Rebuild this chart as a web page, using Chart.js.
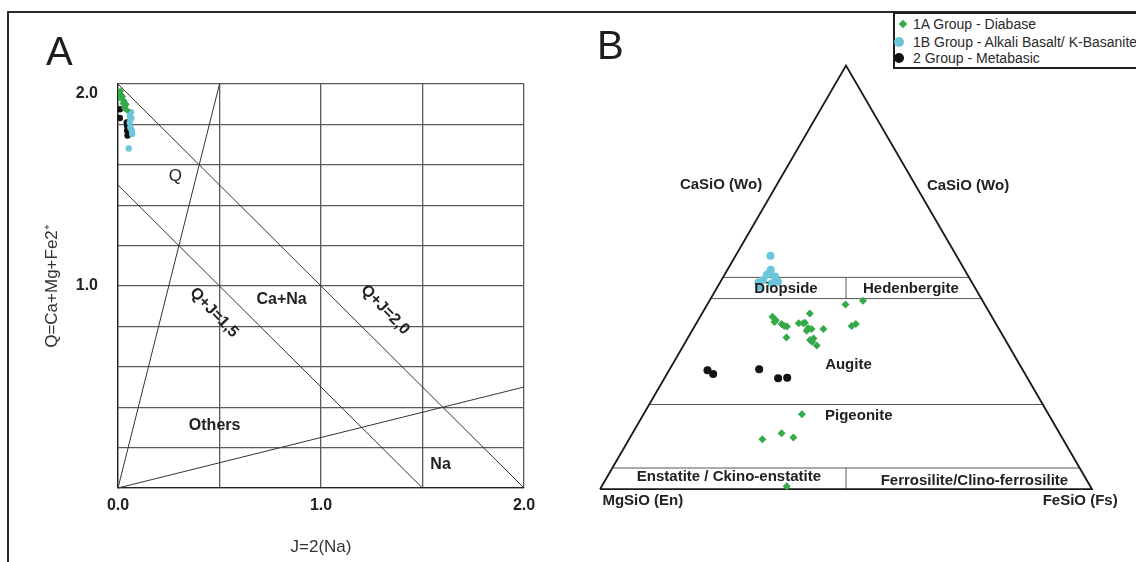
<!DOCTYPE html>
<html>
<head>
<meta charset="utf-8">
<script src="https://cdn.jsdelivr.net/npm/chart.js@4.4.0/dist/chart.umd.min.js"></script>
<style>
  html,body{margin:0;padding:0;background:#fff;}
  body{width:1136px;height:562px;overflow:hidden;position:relative;font-family:"Liberation Sans",Arial,sans-serif;}
  #frame{position:absolute;left:7px;top:11px;width:1200px;height:600px;border-left:2px solid #2a2a2a;border-top:2px solid #2a2a2a;}
  #cA{position:absolute;left:0;top:0;}
  #cB{position:absolute;left:560px;top:0;}
  .letter{position:absolute;font-size:40px;line-height:40px;color:#1e1e1e;}
  #legend{position:absolute;left:893px;top:12px;width:260px;height:53px;border:2px solid #1e1e1e;background:#fff;font-size:14px;color:#2a2a2a;}
  .row{position:absolute;left:0;height:17px;line-height:17px;white-space:nowrap;}
  .mk{position:absolute;}
  .txt{position:absolute;left:18px;top:0;}
</style>
</head>
<body>
<div id="frame"></div>
<canvas id="cA" width="560" height="562"></canvas>
<canvas id="cB" width="576" height="562"></canvas>
<div class="letter" style="left:46px;top:31px;">A</div>
<div class="letter" style="left:597px;top:25px;">B</div>
<div id="legend"></div>
<script>
// ---------------- DATA ----------------
const groupLabels = ['1A Group - Diabase', '1B Group - Alkali Basalt/ K-Basanite', '2 Group - Metabasic'];

// Panel A : Q-J diagram (J = 2Na, Q = Ca+Mg+Fe2+)
const diabaseJ = [0.004, 0.016, 0.009, 0.020, 0.029, 0.025, 0.035, 0.032, 0.012, 0.040, 0.022, 0.045];
const diabaseQ = [1.955, 1.946, 1.933, 1.925, 1.917, 1.903, 1.892, 1.881, 1.965, 1.900, 1.938, 1.870];
const alkaliJ  = [0.058, 0.066, 0.058, 0.061, 0.070, 0.053, 0.064, 0.068];
const alkaliQ  = [1.842, 1.831, 1.810, 1.785, 1.752, 1.681, 1.860, 1.770];
const metaJ    = [0.009, 0.009, 0.045, 0.045, 0.047, 0.043];
const metaQ    = [1.875, 1.832, 1.793, 1.770, 1.745, 1.810];

// Panel A field boundaries (data units)
const lineQJ15 = [[0, 1.5], [1.5, 0]];
const lineQJ20 = [[0, 2.0], [2.0, 0]];
const lineQ80  = [[0, 0], [0.5, 2.0]];
const lineJ80  = [[0, 0], [2.0, 0.5]];
const xTickLabelsA = ['0.0', '1.0', '2.0'];
const yTickLabelsA = ['1.0', '2.0'];
const fieldNamesA = ['Q', 'Ca+Na', 'Others', 'Na', 'Q+J=1,5', 'Q+J=2,0'];

// Panel B : pyroxene quadrilateral (Wo, En, Fs in %)
const diabaseWo = [43.6, 44.5, 40.7, 39.5, 39.0, 38.4, 41.5, 39.2, 39.2, 38.0, 37.4, 37.8, 35.8, 35.2, 35.6, 33.9, 38.5, 39.0, 17.7, 13.2, 11.8, 12.2, 0.7, 37.8, 39.3, 39.9, 38.5, 34.8];
const diabaseEn = [28.3, 24.3, 44.6, 44.8, 43.6, 42.8, 36.6, 40.0, 39.1, 38.7, 39.3, 35.7, 44.2, 39.7, 38.8, 39.0, 29.6, 28.5, 50.1, 56.5, 61.1, 54.6, 61.7, 38.1, 38.7, 44.3, 43.3, 39.5];
const diabaseFs = [28.1, 31.2, 14.7, 15.7, 17.4, 18.8, 21.9, 20.8, 21.7, 23.3, 23.3, 26.5, 20.0, 25.1, 25.6, 27.1, 31.9, 32.5, 32.2, 30.3, 27.1, 33.2, 37.6, 24.1, 22.0, 15.8, 18.2, 25.7];
const alkaliWo = [55.1, 51.1, 49.4, 48.8, 50.2, 48.6, 50.6, 49.0, 47.8, 51.8];
const alkaliEn = [37.8, 40.0, 42.1, 43.4, 39.3, 40.8, 40.8, 39.3, 43.6, 39.4];
const alkaliFs = [7.1, 8.9, 8.5, 7.8, 10.5, 10.6, 8.6, 11.7, 8.6, 8.8];
const metaWo = [28.1, 27.2, 28.3, 26.2, 26.3];
const metaEn = [64.1, 63.4, 53.5, 50.7, 48.8];
const metaFs = [7.8, 9.4, 18.2, 23.1, 24.9];

// Panel B field boundaries (Wo levels) and names
const woLevels = [50, 45, 20, 5];
const dividerWo = [[45, 50], [0, 5]];
const fieldNamesB = ['CaSiO (Wo)', 'CaSiO (Wo)', 'Diopside', 'Hedenbergite', 'Augite', 'Pigeonite',
                     'Enstatite / Ckino-enstatite', 'Ferrosilite/Clino-ferrosilite', 'MgSiO (En)', 'FeSiO (Fs)'];

// ---------------- STYLE / LAYOUT ----------------
const GREEN = '#36a94a', CYAN = '#6cc6da', BLACK = '#121212';
const FONT = '"Liberation Sans", Arial, sans-serif';
Chart.defaults.font.family = FONT;

const posA = [ {x:0.283,y:1.542,rot:0,font:'17px'}, {x:0.806,y:0.933,rot:0,font:'bold 16px'},
               {x:0.476,y:0.309,rot:0,font:'bold 16px'}, {x:1.589,y:0.117,rot:0,font:'bold 16px'},
               {x:0.473,y:0.868,rot:46,font:'bold 16px'}, {x:1.316,y:0.882,rot:46,font:'bold 16px'} ];
const posB = [ {x:24.6,y:71.9}, {x:74.8,y:71.5}, {x:37.8,y:47.4}, {x:63.2,y:47.4}, {x:50.5,y:29.3},
               {x:52.6,y:17.2}, {x:26.2,y:2.8}, {x:76.1,y:2.0}, {x:8.7,y:-2.7}, {x:97.6,y:-2.7} ];

const zip = (xs, ys) => xs.map((v, i) => ({x: v, y: ys[i]}));
const tern = (wo, en, fs) => { const s = wo + en + fs; const W = wo / s * 100, F = fs / s * 100; return {x: F + W / 2, y: W}; };
const ternPts = (W, E, F) => W.map((w, i) => tern(w, E[i], F[i]));
const seg = (pts) => pts.map(p => ({x: p[0], y: p[1]}));

const fieldLabels = {
  id: 'fieldLabels',
  afterDatasetsDraw(chart, args, opts) {
    const {ctx} = chart; const sx = chart.scales.x, sy = chart.scales.y;
    ctx.save();
    (opts.items || []).forEach(it => {
      ctx.save();
      ctx.font = it.font + ' ' + FONT;
      ctx.fillStyle = it.color || '#222';
      ctx.textAlign = 'center'; ctx.textBaseline = 'middle';
      ctx.translate(sx.getPixelForValue(it.x), sy.getPixelForValue(it.y));
      ctx.rotate((it.rot || 0) * Math.PI / 180);
      ctx.fillText(it.text, 0, 0);
      ctx.restore();
    });
    ctx.restore();
  }
};

const lineDs = (data, color, width) => ({type: 'line', data, borderColor: color, borderWidth: width, pointRadius: 0, fill: false, showLine: true, clip: false, order: 10});

// ---------------- CHART A ----------------
new Chart(document.getElementById('cA'), {
  type: 'scatter',
  data: {
    datasets: [
      {label: groupLabels[2], data: zip(metaJ, metaQ), pointStyle: 'circle', pointRadius: 3.2, backgroundColor: BLACK, borderWidth: 0, order: 3},
      {label: groupLabels[1], data: zip(alkaliJ, alkaliQ), pointStyle: 'circle', pointRadius: 3.2, backgroundColor: CYAN, borderWidth: 0, order: 2},
      {label: groupLabels[0], data: zip(diabaseJ, diabaseQ), pointStyle: 'rectRot', pointRadius: 3.6, backgroundColor: GREEN, borderWidth: 0, order: 1},
      lineDs(seg(lineQJ15), '#333', 1),
      lineDs(seg(lineQJ20), '#333', 1),
      lineDs(seg(lineQ80), '#333', 1),
      lineDs(seg(lineJ80), '#333', 1)
    ]
  },
  options: {
    responsive: false, animation: false, devicePixelRatio: 1,
    layout: {padding: {left: 0, top: 84, right: 36, bottom: 0}},
    plugins: {
      legend: {display: false}, tooltip: {enabled: false},
      fieldLabels: {items: fieldNamesA.map((t, i) => ({text: t, ...posA[i], color: '#222'}))}
    },
    scales: {
      x: {
        type: 'linear', min: 0, max: 2,
        afterFit: s => { s.height = 74; },
        ticks: {stepSize: 0.5, autoSkip: false, maxRotation: 0, padding: 8, color: '#222', font: {size: 16, weight: 'bold'},
          callback: v => { const t = Number(v).toFixed(1); return xTickLabelsA.includes(t) ? t : ''; }},
        grid: {color: '#5a5a5a', lineWidth: 1.3, drawTicks: false},
        border: {color: '#222', width: 1.3},
        title: {display: true, text: 'J=2(Na)', color: '#333', font: {size: 17}, padding: {top: 0, bottom: 4}}
      },
      y: {
        type: 'linear', min: 0, max: 2,
        afterFit: s => { s.width = 118; },
        ticks: {stepSize: 0.2, autoSkip: false, padding: 20, color: '#222', font: {size: 16, weight: 'bold'},
          callback: v => { const t = Number(v).toFixed(1); if (!yTickLabelsA.includes(t)) return ''; return t === '2.0' ? ['', t] : t; }},
        grid: {color: '#5a5a5a', lineWidth: 1.3, drawTicks: false},
        border: {color: '#222', width: 1.3},
        title: {display: true, text: 'Q=Ca+Mg+Fe2⁺', color: '#333', font: {size: 17}, padding: {top: 42, bottom: 0}}
      }
    }
  },
  plugins: [fieldLabels]
});

// ---------------- CHART B ----------------
const triangle = [tern(0, 100, 0), tern(100, 0, 0), tern(0, 0, 100), tern(0, 100, 0)];
const levelLines = woLevels.map(w => [tern(w, 100 - w, 0), tern(w, 0, 100 - w)]);
const dividers = dividerWo.map(([a, b]) => [tern(a, (100 - a) / 2, (100 - a) / 2), tern(b, (100 - b) / 2, (100 - b) / 2)]);

const chartB = new Chart(document.getElementById('cB'), {
  type: 'scatter',
  data: {
    datasets: [
      {label: groupLabels[0], data: ternPts(diabaseWo, diabaseEn, diabaseFs), pointStyle: 'rectRot', pointRadius: 4, backgroundColor: GREEN, borderWidth: 0, clip: false, order: 1},
      {label: groupLabels[1], data: ternPts(alkaliWo, alkaliEn, alkaliFs), pointStyle: 'circle', pointRadius: 4, backgroundColor: CYAN, borderWidth: 0, clip: false, order: 2},
      {label: groupLabels[2], data: ternPts(metaWo, metaEn, metaFs), pointStyle: 'circle', pointRadius: 4, backgroundColor: BLACK, borderWidth: 0, clip: false, order: 3},
      lineDs(triangle, '#1a1a1a', 1.8),
      ...levelLines.map(l => lineDs(l, '#555', 1)),
      ...dividers.map(l => lineDs(l, '#555', 1))
    ]
  },
  options: {
    responsive: false, animation: false, devicePixelRatio: 1,
    layout: {padding: {left: 40, right: 44, top: 65.6, bottom: 72.8}},
    plugins: {
      legend: {display: false}, tooltip: {enabled: false},
      fieldLabels: {items: fieldNamesB.map((t, i) => ({text: t, ...posB[i], font: 'bold 15px', color: '#222'}))}
    },
    scales: {
      x: {type: 'linear', min: 0, max: 100, display: false},
      y: {type: 'linear', min: 0, max: 100, display: false}
    }
  },
  plugins: [fieldLabels]
});

// ---------------- LEGEND (from chart B datasets) ----------------
const legend = document.getElementById('legend');
const rowTops = [2, 20, 36];
chartB.data.datasets.slice(0, 3).forEach((ds, i) => {
  const row = document.createElement('div');
  row.className = 'row'; row.style.top = rowTops[i] + 'px';
  const mk = document.createElement('div'); mk.className = 'mk';
  if (ds.pointStyle === 'rectRot') {
    Object.assign(mk.style, {left: '5px', top: '5px', width: '6px', height: '6px', background: ds.backgroundColor, transform: 'rotate(45deg)'});
  } else {
    Object.assign(mk.style, {left: '-1px', top: '3px', width: '10px', height: '10px', borderRadius: '50%', background: ds.backgroundColor});
  }
  const tx = document.createElement('div'); tx.className = 'txt'; tx.textContent = ds.label;
  row.appendChild(mk); row.appendChild(tx); legend.appendChild(row);
});
</script>
</body>
</html>
